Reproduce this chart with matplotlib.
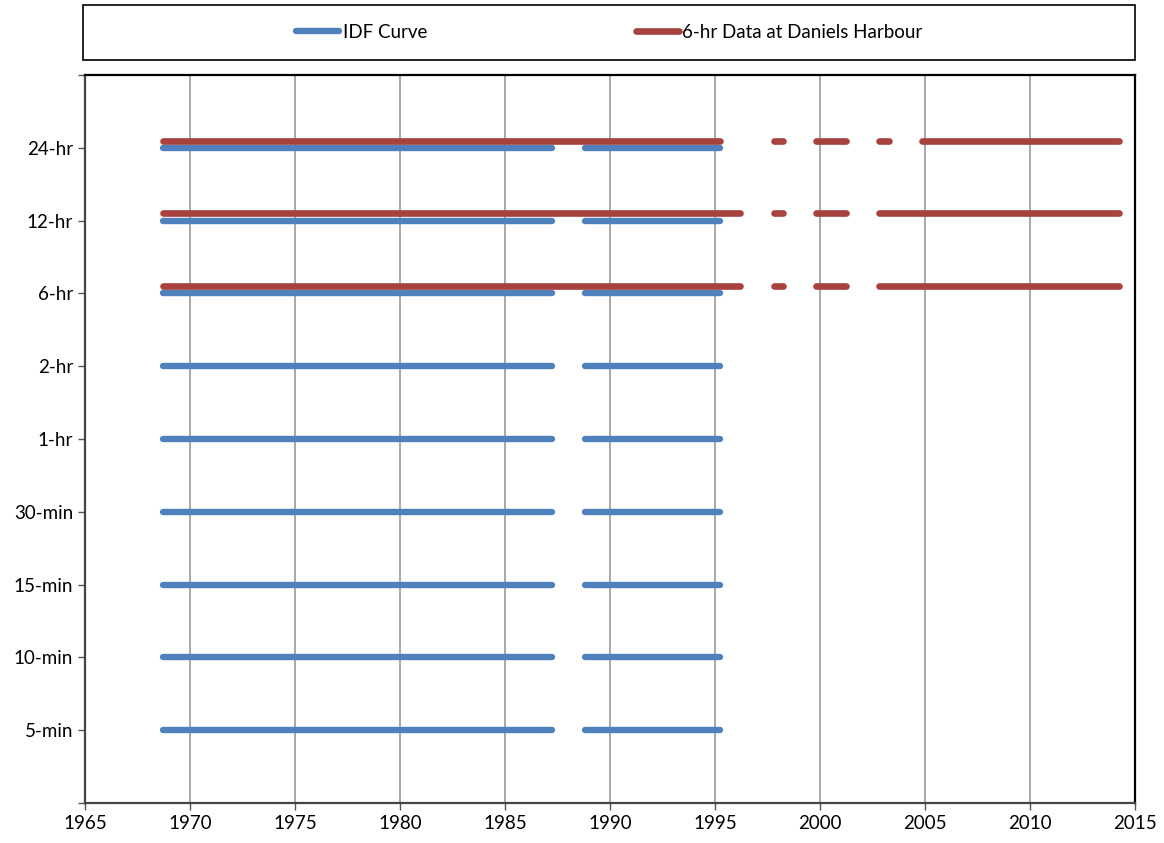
import numpy as np
import matplotlib
matplotlib.use('Agg')
import matplotlib.pyplot as plt
from matplotlib.patches import Rectangle

plt.rcParams['font.family'] = ['Lato', 'DejaVu Sans']

durations = ['5-min', '10-min', '15-min', '30-min', '1-hr', '2-hr', '6-hr', '12-hr', '24-hr']

# record periods (start year, end year) used for the IDF curve
idf_periods = [(1968.7, 1987.25), (1988.8, 1995.25)]

# 6-hr record periods at Daniels Harbour, for the 6-hr, 12-hr and 24-hr durations
dh_periods_6hr = [(1968.7, 1996.2), (1997.8, 1998.25), (1999.8, 2001.25), (2002.8, 2014.25)]
dh_periods_12hr = [(1968.7, 1996.2), (1997.8, 1998.25), (1999.8, 2001.25), (2002.8, 2014.25)]
dh_periods_24hr = [(1968.7, 1995.25), (1997.8, 1998.25), (1999.8, 2001.25),
                   (2002.8, 2003.3), (2004.85, 2014.25)]
dh_durations = ['6-hr', '12-hr', '24-hr']
dh_offset = 0.1

blue = '#4F81BD'
red = '#A8423F'


def segments(periods, level):
    xs, ys = [], []
    for a, b in periods:
        xs += [a, b, np.nan]
        ys += [level, level, np.nan]
    return xs, ys


fig = plt.figure(figsize=(11.64, 8.43), dpi=100)
ax = fig.add_axes([0.073, 0.0474, 0.902, 0.8636])

for i, d in enumerate(durations):
    x, y = segments(idf_periods, i + 1)
    ax.plot(x, y, color=blue, lw=4.6, solid_capstyle='round',
            label='IDF Curve' if i == 0 else None)

for d, periods in zip(dh_durations, [dh_periods_6hr, dh_periods_12hr, dh_periods_24hr]):
    level = durations.index(d) + 1 + dh_offset
    x, y = segments(periods, level)
    ax.plot(x, y, color=red, lw=4.8, solid_capstyle='round',
            label='6-hr Data at Daniels Harbour' if d == '6-hr' else None)

ax.set_xlim(1965, 2015)
ax.set_ylim(0, 10)
ax.set_xticks(np.arange(1965, 2016, 5))
ax.set_yticks(np.arange(0, 11))
ax.set_yticklabels([''] + durations + [''])
ax.tick_params(axis='both', labelsize=13.5, direction='out', length=5, width=1, color='#555555')
ax.xaxis.grid(True, color='#999999', lw=1.2)
ax.set_axisbelow(True)
for s in ax.spines.values():
    s.set_color('black')
    s.set_linewidth(1.6)
ax.spines['left'].set_color('#444444')
ax.spines['bottom'].set_color('#444444')

# legend box above the plot area
fig.patches.append(Rectangle((0.0713, 0.9288), 0.904, 0.0652, transform=fig.transFigure,
                             fill=False, edgecolor='black', lw=1.2))
h, l = ax.get_legend_handles_labels()
fig.legend(h, l, loc='center', bbox_to_anchor=(0.5236, 0.9614), ncol=2, frameon=False,
           fontsize=13.5, handlelength=2.3, handletextpad=0.2, columnspacing=11.1)

fig.savefig('out.png', dpi=100)
